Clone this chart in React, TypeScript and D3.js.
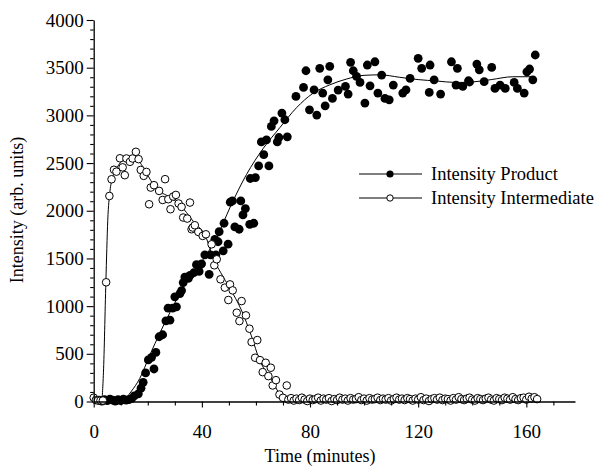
import React, { useEffect, useRef } from "react";
import * as d3 from "d3";

const xTicksMajor = [0, 40, 80, 120, 160];
const yTicksMajor = [0, 500, 1000, 1500, 2000, 2500, 3000, 3500, 4000];
const seriesNames = ["Intensity Product", "Intensity Intermediate"];

const productPoints: [number, number][] = [
  [2, 15], [3, 5], [4, 20], [5, 10], [6, 25], [7, 15], [8, 5], [9, 20], [10, 10], [11, 25], [12, 15], [13, 20], [14, 30], [15, 60],
  [16.5, 80], [17.5, 140], [18.3, 201], [19.2, 300], [20.2, 436], [21.4, 463], [22.3, 341], [23.0, 515], [24.2, 679], [25.5, 700],
  [26.7, 846], [27.5, 979], [28.2, 853], [29.2, 979], [30.0, 1097], [30.6, 993], [31.9, 1132], [32.5, 1163], [33.1, 1247], [33.7, 1305],
  [35.0, 1290], [35.6, 1322], [37.0, 1350], [38.0, 1434], [39.0, 1364], [39.9, 1444], [41.1, 1538], [42.7, 1333], [43.2, 1538],
  [44.8, 1700], [45.2, 1538], [46.0, 1675], [46.4, 1780], [47.9, 1580], [48.2, 1869], [49.7, 1650], [50.5, 2090], [51.3, 2103],
  [52.2, 1830], [53.8, 1806], [54.4, 2103], [55.2, 1956], [56.1, 2023], [57.7, 1858], [57.9, 2338], [59.2, 1869], [59.8, 2348],
  [61.0, 2470], [62.0, 2722], [62.9, 2588], [63.9, 2743], [64.8, 2470], [65.7, 2884], [66.7, 2943], [67.9, 2722], [68.5, 2768],
  [69.6, 3024], [70.7, 2954], [71.6, 2775], [74.8, 3199], [77.6, 3293], [78.5, 3468], [79.8, 3058], [81.5, 3268], [82.5, 3003],
  [83.6, 3493], [84.7, 3234], [85.6, 3100], [86.6, 3373], [87.3, 3514], [88.3, 3178], [90.4, 3265], [93.1, 3304], [94.1, 3223],
  [95.0, 3556], [96.0, 3468], [97.2, 3409], [98.5, 3346], [100.3, 3129], [101.2, 3528], [102.2, 3310], [104.0, 3562], [105.1, 3234],
  [106.5, 3423], [107.7, 3178], [109.3, 3163], [110.8, 3318], [114.3, 3234], [115.5, 3268], [117.0, 3387], [120.0, 3598],
  [121.3, 3493], [124.4, 3528], [124.1, 3241], [125.9, 3373], [128.3, 3223], [132.3, 3562], [134.5, 3493], [134.0, 3318],
  [136.5, 3304], [138.6, 3363], [139.0, 3350], [141.7, 3538], [142.6, 3478], [144.4, 3353], [147.2, 3503], [148.4, 3283], [150.3, 3318],
  [152.2, 3283], [155.5, 3346], [156.7, 3283], [159.2, 3234], [160.2, 3457], [161.2, 3486], [162.4, 3373], [163.3, 3633],
];

const intermediatePoints: [number, number][] = [
  [0, 40], [0.8, 15], [1.6, 10], [2.5, 10], [3.4, 10], [4.6, 1250], [5.8, 2155], [6.6, 2330], [7.5, 2430], [8.4, 2410],
  [9.7, 2550], [10.7, 2455], [11.5, 2373], [12.1, 2548], [13.4, 2513], [14.4, 2548], [15.6, 2618], [16.6, 2541], [17.4, 2428],
  [18.5, 2366], [19.5, 2407], [20.5, 2068], [21.1, 2243], [22.3, 2268], [24.2, 2208], [25.5, 2113], [26.4, 2331], [27.6, 2121],
  [28.4, 2016], [29.4, 2149], [30.4, 2166], [31.4, 2076], [32.5, 2040], [33.1, 1929], [34.6, 1918], [35.6, 2086], [36.2, 1806],
  [36.6, 1824], [37.4, 1848], [38.7, 1778], [40.3, 1736], [41.5, 1753], [43.6, 1648], [44.6, 1428], [45.5, 1491], [46.9, 1281],
  [48.5, 1194], [49.8, 1064], [50.4, 1228], [51.4, 1165], [52.9, 931], [53.9, 843], [54.7, 1053], [56.3, 903], [57.6, 763],
  [58.4, 623], [59.7, 459], [60.5, 644], [61.5, 434], [62.5, 308], [63.6, 406], [64.6, 266], [65.5, 354], [66.2, 168], [67.4, 224],
  [68.7, 73], [70.0, 39], [71.4, 168],
  [72, 20], [73, 35], [74, 10], [75, 30], [76, 15], [77, 40], [78, 20], [79, 5], [80, 30], [81, 15], [82, 25], [83, 40], [84, 10],
  [85, 30], [86, 20], [87, 35], [88, 5], [89, 25], [90, 15], [91, 40], [92, 20], [93, 30], [94, 10], [95, 35], [96, 20], [97, 25],
  [98, 45], [99, 15], [100, 30], [101, 10], [102, 35], [103, 20], [104, 25], [105, 40], [106, 15], [107, 30], [108, 20], [109, 35],
  [110, 10], [111, 25], [112, 40], [113, 20], [114, 30], [115, 15], [116, 35], [117, 25], [118, 10], [119, 30], [120, 20], [121, 45],
  [122, 15], [123, 30], [124, 5], [125, 25], [126, 35], [127, 20], [128, 40], [129, 15], [130, 30], [131, 25], [132, 10], [133, 35],
  [134, 20], [135, 45], [136, 25], [137, 15], [138, 30], [139, 40], [140, 20], [141, 10], [142, 35], [143, 25], [144, 15], [145, 30],
  [146, 40], [147, 20], [148, 10], [149, 35], [150, 25], [151, 15], [152, 40], [153, 30], [154, 20], [155, 45], [156, 25], [157, 15],
  [158, 35], [159, 40], [160, 20], [161, 50], [162, 30], [163, 45], [164, 25],
];

const productFit: [number, number][] = [
  [0, 0], [10, 0], [12, 40], [14, 110], [17, 240], [20.8, 490], [24.5, 720], [29.4, 1000], [33.7, 1230], [40, 1470],
  [45.5, 1720], [50.5, 2040], [56.5, 2380], [62.6, 2650], [68.8, 2870], [75, 3080], [81, 3230], [87.3, 3320], [93.4, 3380],
  [100, 3420], [106, 3425], [113, 3400], [120, 3375], [127, 3360], [134, 3345], [140, 3350], [147, 3375], [155, 3405], [162, 3405],
];

const intermediateFit: [number, number][] = [
  [0, 10], [2.9, 10], [3.6, 300], [4.5, 1250], [5.2, 1900], [6, 2200], [7, 2350], [9, 2470], [11, 2530], [13.4, 2545],
  [16.5, 2520], [19.6, 2390], [22.6, 2250], [28.2, 2140], [31.9, 2060], [36.8, 1890], [41.7, 1710], [44.2, 1500], [47, 1350],
  [50.3, 1190], [54.6, 960], [58.3, 690], [61.4, 430], [65.1, 260], [68.8, 70], [70, 5], [75, 0], [165, 0],
];

const FONT = "'Liberation Serif', 'Times New Roman', serif";

export default function App() {
  const axRef = useRef<SVGGElement>(null);
  const width = 597;
  const height = 466;
  const x = d3.scaleLinear().domain([0, 178]).range([93.7, 575]);
  const y = d3.scaleLinear().domain([0, 4000]).range([401.5, 20]);

  useEffect(() => {
    const g = d3.select(axRef.current);
    g.selectAll("*").remove();
    const xMinor = d3.range(0, 171, 10).filter((v) => v % 40 !== 0);
    const yMinor = d3.range(0, 4001, 100).filter((v) => v % 500 !== 0);

    const xa = g.append("g").attr("transform", `translate(0,${y(0)})`);
    xa.call(d3.axisBottom(x).tickValues(xTicksMajor).tickSize(6).tickSizeOuter(0).tickPadding(17).tickFormat(d3.format("d")));
    const xm = g.append("g").attr("transform", `translate(0,${y(0)})`);
    xm.call(d3.axisBottom(x).tickValues(xMinor).tickSize(4).tickSizeOuter(0).tickFormat(() => ""));
    xm.select(".domain").remove();

    const ya = g.append("g").attr("transform", `translate(${x(0)},0)`);
    ya.call(d3.axisLeft(y).tickValues(yTicksMajor).tickSize(7).tickSizeOuter(0).tickPadding(3).tickFormat(d3.format("d")));
    const ym = g.append("g").attr("transform", `translate(${x(0)},0)`);
    ym.call(d3.axisLeft(y).tickValues(yMinor).tickSize(3.5).tickSizeOuter(0).tickFormat(() => ""));
    ym.select(".domain").remove();

    g.selectAll("g").attr("font-family", FONT);
    g.selectAll(".domain").attr("stroke", "#000").attr("stroke-width", 1.3);
    g.selectAll(".tick line").attr("stroke", "#000").attr("stroke-width", 1.1);
    g.selectAll(".tick text")
      .attr("font-family", FONT)
      .attr("font-size", 19)
      .attr("fill", "#000");
  }, []);

  const line = d3
    .line<[number, number]>()
    .x((d) => x(d[0]))
    .y((d) => y(d[1]))
    .curve(d3.curveMonotoneX);

  const legendY = [174, 198];

  return (
    <svg
      width={width}
      height={height}
      style={{ position: "absolute", left: 0, top: 0, background: "#fff" }}
      fontFamily={FONT}
    >
      <rect x={0} y={0} width={width} height={height} fill="#fff" />
      <path d={line(intermediateFit) || ""} fill="none" stroke="#000" strokeWidth={1} />
      <path d={line(productFit) || ""} fill="none" stroke="#000" strokeWidth={1} />
      <g>
        {productPoints.map((d, i) => (
          <circle key={"p" + i} cx={x(d[0])} cy={y(d[1])} r={4.4} fill="#000" />
        ))}
      </g>
      <g>
        {intermediatePoints.map((d, i) => (
          <circle key={"i" + i} cx={x(d[0])} cy={y(d[1])} r={3.8} fill="#fff" stroke="#000" strokeWidth={1} />
        ))}
      </g>
      <g ref={axRef} />
      <text x={320} y={462} textAnchor="middle" fontSize={18}>Time (minutes)</text>
      <text transform="translate(23,210) rotate(-90)" textAnchor="middle" fontSize={18}>Intensity (arb. units)</text>
      {seriesNames.map((name, i) => (
        <g key={name}>
          <line x1={359} x2={422} y1={legendY[i]} y2={legendY[i]} stroke="#000" strokeWidth={1} />
          {i === 0 ? (
            <circle cx={390} cy={legendY[i]} r={3.6} fill="#000" />
          ) : (
            <circle cx={390} cy={legendY[i]} r={3.2} fill="#fff" stroke="#000" strokeWidth={1} />
          )}
          <text x={431} y={legendY[i] + 6} fontSize={18.5}>{name}</text>
        </g>
      ))}
    </svg>
  );
}
